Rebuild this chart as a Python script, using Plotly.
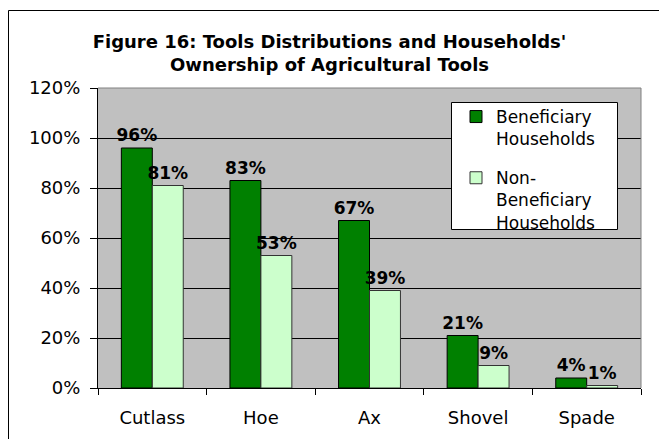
import plotly.graph_objects as go

tools = ["Cutlass", "Hoe", "Ax", "Shovel", "Spade"]
beneficiary = [96, 83, 67, 21, 4]
non_beneficiary = [81, 53, 39, 9, 1]
y_ticks = [0, 20, 40, 60, 80, 100, 120]
y_tick_labels = [f"{v}%" for v in y_ticks]

FONT = "DejaVu Sans"
FS = 18

fig = go.Figure()
fig.add_trace(go.Bar(
    x=tools, y=beneficiary, name="Beneficiary<br>Households",
    legendgroup="ben",
    marker=dict(color="#008000", line=dict(color="#000000", width=1)),
    text=[f"<b>{v}%</b>" for v in beneficiary], textposition="outside",
    textfont=dict(family=FONT, size=17, color="#000000"),
    cliponaxis=False,
))
fig.add_trace(go.Bar(
    x=tools, y=non_beneficiary, name="Non-<br>Beneficiary<br>Households",
    legendgroup="non",
    marker=dict(color="#CCFFCC", line=dict(color="#333333", width=1)),
    text=[f"<b>{v}%</b>" for v in non_beneficiary], textposition="outside",
    textfont=dict(family=FONT, size=17, color="#000000"),
    cliponaxis=False,
))

L, R, T, B = 98, 18, 88, 51
W, H = 659, 439
pw, ph = W - L - R, H - T - B

def px_x(p):
    return (p - L) / pw

def px_y(p):
    return (H - B - p) / ph

fig.update_layout(
    width=W, height=H,
    margin=dict(l=L, r=R, t=T, b=B, pad=0),
    paper_bgcolor="#FFFFFF", plot_bgcolor="#C0C0C0",
    font=dict(family=FONT, size=FS, color="#000000"),
    barmode="group", bargap=0.43, bargroupgap=0,
    uniformtext=dict(minsize=17, mode="show"),
    title=dict(
        text="<b>Figure 16: Tools Distributions and Households'<br>Ownership of Agricultural Tools</b>",
        x=0.5, xref="container", xanchor="center",
        y=1 - 48 / H, yanchor="middle",
        font=dict(family=FONT, size=18, color="#000000"),
    ),
    legend=dict(
        x=px_x(456), y=px_y(99), xanchor="left", yanchor="top",
        bgcolor="rgba(0,0,0,0)", borderwidth=0,
        font=dict(family=FONT, size=17, color="#000000"),
        tracegroupgap=14, itemwidth=30, valign="top",
    ),
    xaxis=dict(
        showgrid=False, showline=True, linecolor="#000000", linewidth=1,
        ticks="outside", tickson="boundaries", ticklen=6, tickcolor="#000000",
        tickfont=dict(family=FONT, size=FS), ticklabelstandoff=13,
        fixedrange=True,
    ),
    yaxis=dict(
        range=[0, 120], tickvals=y_ticks, ticktext=y_tick_labels,
        showgrid=True, gridcolor="#000000", gridwidth=1,
        showline=True, linecolor="#000000", linewidth=1,
        ticks="outside", ticklen=7, tickcolor="#000000",
        tickfont=dict(family=FONT, size=FS), ticklabelstandoff=6,
        zeroline=False,
    ),
    showlegend=True,
    shapes=[
        # grey frame on the top and right edges of the plot area
        dict(type="line", xref="paper", yref="paper", x0=0, x1=1, y0=1, y1=1,
             line=dict(color="#808080", width=1)),
        dict(type="line", xref="paper", yref="paper", x0=1, x1=1, y0=0, y1=1,
             line=dict(color="#808080", width=1)),
        # legend box
        dict(type="rect", xref="paper", yref="paper", layer="above",
             x0=px_x(451.5), x1=px_x(617.5), y0=px_y(229.5), y1=px_y(102.5),
             line=dict(color="#000000", width=1), fillcolor="#FFFFFF"),
        # outer chart border
        dict(type="rect", xref="paper", yref="paper",
             x0=px_x(8.5), x1=px_x(700), y0=px_y(480), y1=px_y(10.5),
             line=dict(color="#000000", width=1), fillcolor="rgba(0,0,0,0)"),
    ],
)

fig.write_html("out.html")
